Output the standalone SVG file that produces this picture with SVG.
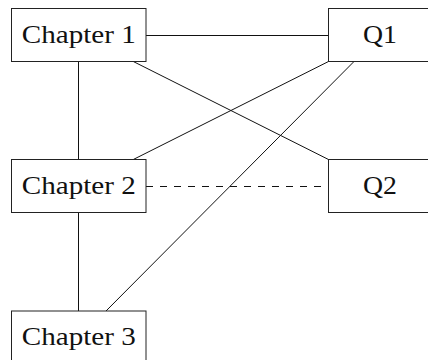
<svg xmlns="http://www.w3.org/2000/svg" width="428" height="360" viewBox="0 0 428 360">
<style>
.box{fill:#fff;stroke:#222;stroke-width:1}
.lbl{font-family:"Liberation Serif","DejaVu Serif",serif;font-size:26px;fill:#111;text-anchor:middle}
.edge{stroke:#111;stroke-width:1;fill:none}
.dash{stroke-dasharray:7 7}
</style>
<rect width="428" height="360" fill="#fff"/>
<g id="connectors">
<line class="edge" x1="146" y1="35.5" x2="328.5" y2="35.5"/>
<line class="edge" x1="78.5" y1="61.5" x2="78.5" y2="159.5"/>
<line class="edge" x1="78.5" y1="212.5" x2="78.5" y2="311"/>
<line class="edge" x1="133.3" y1="61.5" x2="328.5" y2="159.5"/>
<line class="edge" x1="328.5" y1="61.5" x2="133.3" y2="159.5"/>
<line class="edge" x1="354" y1="61.5" x2="106" y2="311"/>
<line class="edge dash" x1="146" y1="186.5" x2="328.5" y2="186.5"/>
</g>
<g id="chapter1">
<rect class="box" x="11.5" y="8.5" width="134.5" height="53"/>
<text class="lbl" x="78.75" y="42.8" textLength="114" lengthAdjust="spacingAndGlyphs">Chapter 1</text>
</g>
<g id="q1">
<rect class="box" x="328.5" y="8.5" width="103" height="53"/>
<text class="lbl" x="380" y="42.8" textLength="34" lengthAdjust="spacingAndGlyphs">Q1</text>
</g>
<g id="chapter2">
<rect class="box" x="11.5" y="159.5" width="134.5" height="53"/>
<text class="lbl" x="78.75" y="193.5" textLength="114" lengthAdjust="spacingAndGlyphs">Chapter 2</text>
</g>
<g id="q2">
<rect class="box" x="328.5" y="159.5" width="103" height="53"/>
<text class="lbl" x="380" y="193.5" textLength="34" lengthAdjust="spacingAndGlyphs">Q2</text>
</g>
<g id="chapter3">
<rect class="box" x="11.5" y="311" width="134.5" height="53"/>
<text class="lbl" x="78.75" y="344.5" textLength="114" lengthAdjust="spacingAndGlyphs">Chapter 3</text>
</g>
</svg>
